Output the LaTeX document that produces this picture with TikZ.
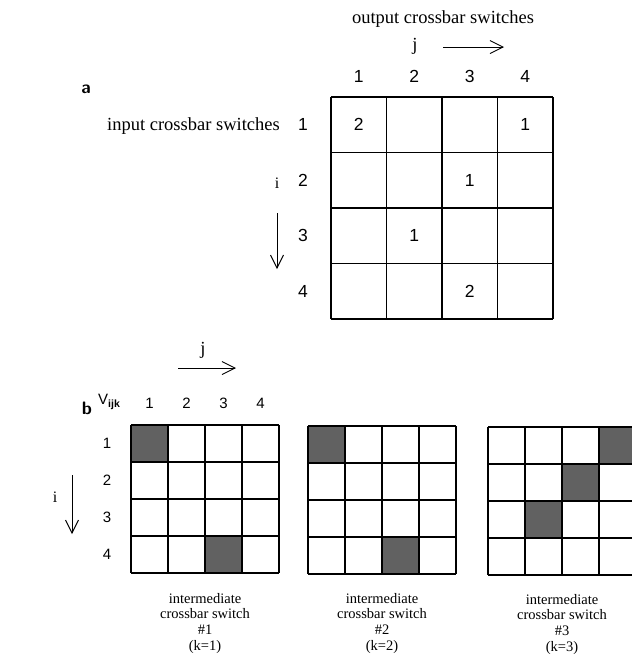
\documentclass[tikz,border=0pt]{standalone}
\usepackage{fontspec}
\setmainfont{Liberation Serif}
\newfontfamily\numfont{Liberation Sans}
\usetikzlibrary{arrows.meta}
\begin{document}
\begin{tikzpicture}[x=1pt,y=-1pt,
  lbl/.style={inner sep=0pt, font=\fontsize{18.5}{20}\selectfont},
  numa/.style={inner sep=0pt, font=\numfont\fontsize{17.5}{19}\selectfont},
  numb/.style={inner sep=0pt, font=\numfont\fontsize{15}{16}\selectfont},
  panel/.style={inner sep=0pt, font=\sffamily\bfseries\fontsize{18}{20}\selectfont},
  capt/.style={inner sep=0pt, anchor=north, align=center, font=\fontsize{14.5}{15.6}\selectfont},
  gl/.style={line width=1.3pt},
  shade/.style={fill=black!62},
  arr/.style={-{Straight Barb[length=13pt,width=13pt]}, line width=0.9pt}
]
\useasboundingbox (0,0) rectangle (632,657);
\fill[white] (0,0) rectangle (632,657);

% ---------- panel a ----------
\node[panel] (pa) at (86,89) {a};
\node[lbl] (outlbl) at (443,19) {output crossbar switches};
\node[lbl] (ja) at (415,46) {j};
\coordinate (jas) at (443,47);
\coordinate (jae) at (504,47);
\draw[arr] (jas) -- (jae);
\node[lbl] (inlbl) at (193.5,126) {input crossbar switches};
\node[lbl, font=\fontsize{16}{18}\selectfont] (ia) at (277,183) {i};
\coordinate (ias) at (277,213);
\coordinate (iae) at (277,269);
\draw[arr] (ias) -- (iae);

\foreach \k in {1,...,4} {
  \node[numa] (ca\k) at ({331+(\k-0.5)*55.5},76) {\k};
  \node[numa] (ra\k) at (303,{97+(\k-0.5)*55.5}) {\k};
}
\foreach \k in {0,...,4} {
  \draw[gl] ({331+\k*55.5},97) -- ({331+\k*55.5},319);
  \draw[gl] (331,{97+\k*55.5}) -- (553,{97+\k*55.5});
}
\foreach \r/\c/\v [count=\n] in {1/1/2, 1/4/1, 2/3/1, 3/2/1, 4/3/2} {
  \node[numa] (va\n) at ({331+(\c-0.5)*55.5},{97+(\r-0.5)*55.5}) {\v};
}

% ---------- panel b ----------
\node[panel] (pb) at (87,408) {b};
\node[lbl] (jb) at (203,350) {j};
\coordinate (jbs) at (178,368);
\coordinate (jbe) at (236,368);
\draw[arr] (jbs) -- (jbe);
\node[lbl, font=\fontsize{16}{18}\selectfont] (ib) at (55,497) {i};
\coordinate (ibs) at (72,475);
\coordinate (ibe) at (72,534);
\draw[arr] (ibs) -- (ibe);
\node[numb] (vijk) at (109,402) {V\raisebox{-3pt}{\fontsize{10.5}{10.5}\selectfont\bfseries ijk}};
\foreach \k in {1,...,4} {
  \node[numb] (cb\k) at ({131+(\k-0.5)*37},403) {\k};
  \node[numb] (rb\k) at (107,{425+(\k-0.5)*37}) {\k};
}

% shaded cells: grid origin x/y, row, column
\foreach \gx/\gy/\r/\c in {131/425/1/1, 131/425/4/3, 308/426/1/1, 308/426/4/3,
                           488/427/1/4, 488/427/2/3, 488/427/3/2} {
  \fill[shade] ({\gx+(\c-1)*37},{\gy+(\r-1)*37}) rectangle ++(37,37);
}
% grid lines
\foreach \gx/\gy in {131/425, 308/426, 488/427} {
  \foreach \k in {0,...,4} {
    \draw[gl] ({\gx+\k*37},\gy) -- ({\gx+\k*37},{\gy+148});
    \draw[gl] (\gx,{\gy+\k*37}) -- ({\gx+148},{\gy+\k*37});
  }
}

\node[capt] (cap1) at (205,593) {intermediate\\crossbar switch\\\#1\\(k=1)};
\node[capt] (cap2) at (382,593) {intermediate\\crossbar switch\\\#2\\(k=2)};
\node[capt] (cap3) at (562,594) {intermediate\\crossbar switch\\\#3\\(k=3)};
\end{tikzpicture}
\end{document}
